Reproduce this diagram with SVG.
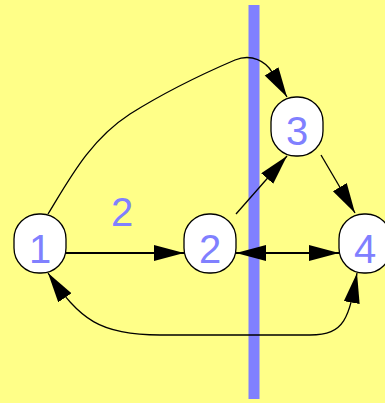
<svg xmlns="http://www.w3.org/2000/svg" width="385" height="403" viewBox="0 0 385 403">
<style>
.node rect{fill:#fff;stroke:#000;stroke-width:1.3}
.node text,.lbl{font-family:"Liberation Sans",Arial,sans-serif;font-size:40px;fill:#8080ff;text-anchor:middle}
.e{fill:none;stroke:#000;stroke-width:1.3}
.eh{fill:none;stroke:#000;stroke-width:2}
</style>
<defs>
<marker id="a" markerUnits="userSpaceOnUse" markerWidth="32" markerHeight="18" refX="30" refY="8" orient="auto">
<path d="M0,0 L30,8 L0,16 Z" fill="#000"/>
</marker>
<marker id="as" markerUnits="userSpaceOnUse" markerWidth="32" markerHeight="18" refX="30" refY="8" orient="auto-start-reverse">
<path d="M0,0 L30,8 L0,16 Z" fill="#000"/>
</marker>
</defs>
<rect x="0" y="0" width="385" height="403" fill="#ffff88"/>
<rect x="248.5" y="5" width="11" height="394" fill="#8080ff"/>
<text class="lbl" x="122" y="226">2</text>
<g id="connectors">
<path class="eh" d="M66,253 L184,253" marker-end="url(#a)"/>
<path class="eh" d="M236,253 L339,253" marker-start="url(#as)" marker-end="url(#as)"/>
<path class="e" d="M236,214 L287,156" marker-end="url(#a)"/>
<path class="e" d="M321,155 L355,213" marker-end="url(#a)"/>
<path class="e" d="M48,214 C70,178 90,140 130,114 C165,92 200,75 235,60 C252,53 266,62 272,72 L287,97" marker-end="url(#a)"/>
<path class="e" d="M48,273 C80,320 100,335 160,335 L310,335 C345,335 349,318 357,273" marker-start="url(#as)" marker-end="url(#as)"/>
</g>
<g id="n1" class="node"><rect x="14" y="214" width="52" height="59" rx="25" ry="25"/><text x="40" y="263">1</text></g>
<g id="n2" class="node"><rect x="184" y="214" width="52" height="59" rx="25" ry="25"/><text x="210" y="263">2</text></g>
<g id="n3" class="node"><rect x="271" y="97" width="52" height="59" rx="25" ry="25"/><text x="297" y="145">3</text></g>
<g id="n4" class="node"><rect x="339" y="214" width="52" height="59" rx="25" ry="25"/><text x="365" y="263">4</text></g>
</svg>
